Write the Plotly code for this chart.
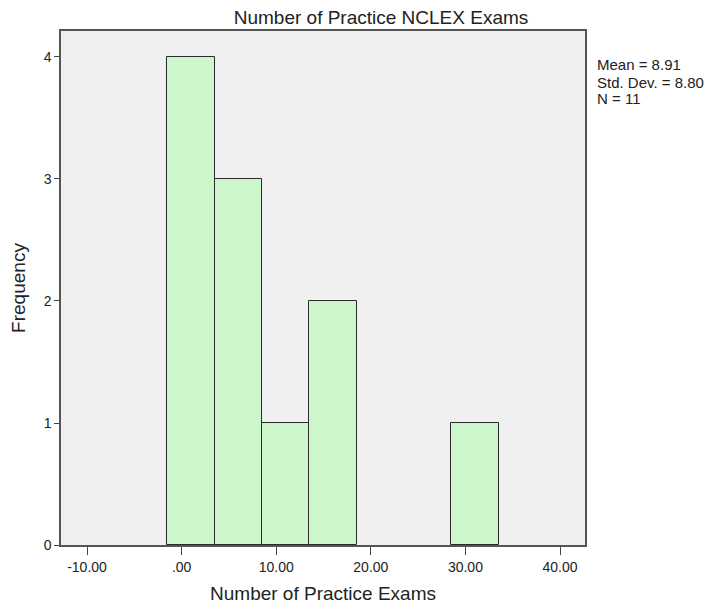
import plotly.graph_objects as go

bin_centers = [1, 6, 11, 16, 21, 26, 31]
frequencies = [4, 3, 1, 2, 0, 0, 1]
x_tick_vals = [-10, 0, 10, 20, 30, 40]
x_tick_text = ["-10.00", ".00", "10.00", "20.00", "30.00", "40.00"]
y_tick_vals = [0, 1, 2, 3, 4]
stats_lines = ["Mean = 8.91", "Std. Dev. = 8.80", "N = 11"]

font_family = "Liberation Sans, Arial, sans-serif"
W, H = 723, 605
# page body adds an 8px offset; plot frame placed so it lands where the reference has it
L, R, T, B = 53, 577, 23, 537

# empty bins are drawn as no bar at all
bar_heights = [f if f > 0 else None for f in frequencies]

fig = go.Figure()
fig.add_trace(go.Bar(
    x=bin_centers, y=bar_heights, width=5,
    marker=dict(color="#ccf7cc", line=dict(color="#2a2a2a", width=1)),
    showlegend=False, hoverinfo="x+y",
))

annotations = []
for i, line in enumerate(stats_lines):
    annotations.append(dict(
        text=line, xref="paper", yref="paper",
        x=1.0, y=(B - (57 + 17 * i)) / (B - T), xanchor="left", yanchor="middle",
        xshift=10, showarrow=False, align="left",
        font=dict(size=15, color="#222")))

fig.update_layout(
    width=W, height=H,
    margin=dict(l=L, r=W - R, t=T, b=H - B, autoexpand=False),
    paper_bgcolor="white",
    plot_bgcolor="#f0f0f0",
    font=dict(family=font_family, color="#222"),
    title=dict(text="Number of Practice NCLEX Exams", x=373 / W,
               xanchor="center", y=1 - 9 / H, yanchor="middle",
               font=dict(size=19, color="#222")),
    bargap=0,
    xaxis=dict(range=[-12.75, 42.64], tickvals=x_tick_vals, ticktext=x_tick_text,
               ticks="outside", ticklen=8, tickcolor="#444",
               showline=True, linecolor="#555", linewidth=1.5, mirror=True,
               showgrid=False, zeroline=False, automargin=False,
               tickfont=dict(size=14, color="#222"),
               title=dict(text="Number of Practice Exams", font=dict(size=19, color="#222"),
                          standoff=13)),
    yaxis=dict(range=[0, 4.213], tickvals=y_tick_vals,
               ticks="outside", ticklen=5, tickcolor="#444",
               showline=True, linecolor="#555", linewidth=1.5, mirror=True,
               showgrid=False, zeroline=False, automargin=False,
               tickfont=dict(size=14, color="#222"),
               title=dict(text="Frequency", font=dict(size=19, color="#222"),
                          standoff=14)),
    annotations=annotations,
)

fig.write_html("out.html")
